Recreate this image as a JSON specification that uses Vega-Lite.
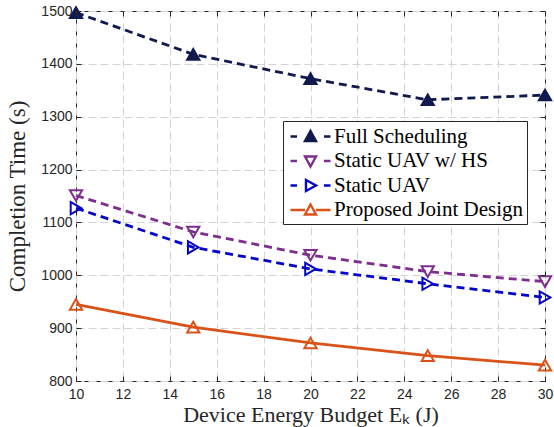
{
  "$schema": "https://vega.github.io/schema/vega-lite/v6.json",
  "width": 469,
  "height": 370,
  "autosize": {"type": "none"},
  "padding": {"left": 76, "top": 11, "right": 9, "bottom": 46},
  "background": "white",
  "config": {
    "view": {"stroke": "#262626", "strokeWidth": 1},
    "axis": {
      "labelFont": "Liberation Sans",
      "labelFontSize": 14,
      "labelColor": "#262626",
      "labelFlush": false,
      "format": "d",
      "titleFont": "Liberation Serif",
      "titleFontWeight": "normal",
      "titleColor": "#262626",
      "titleFontSize": 22,
      "domainColor": "#262626",
      "tickColor": "#262626",
      "gridColor": "#d4d4d4",
      "gridDash": [8, 4],
      "gridWidth": 1
    },
    "legend": {
      "title": null,
      "orient": "none",
      "legendX": 207,
      "legendY": 110,
      "padding": 4,
      "strokeColor": "#262626",
      "fillColor": "white",
      "labelFont": "Liberation Serif",
      "labelFontSize": 21,
      "labelColor": "black",
      "labelLimit": 400,
      "symbolSize": 400,
      "symbolOffset": 12,
      "labelOffset": 12,
      "rowPadding": 2.5
    }
  },
  "data": {
    "values": [
      {"budget": 10, "time": 1497, "series": "Full Scheduling"},
      {"budget": 15, "time": 1418, "series": "Full Scheduling"},
      {"budget": 20, "time": 1372, "series": "Full Scheduling"},
      {"budget": 25, "time": 1332, "series": "Full Scheduling"},
      {"budget": 30, "time": 1341, "series": "Full Scheduling"},
      {"budget": 10, "time": 1151, "series": "Static UAV w/ HS"},
      {"budget": 15, "time": 1082, "series": "Static UAV w/ HS"},
      {"budget": 20, "time": 1038, "series": "Static UAV w/ HS"},
      {"budget": 25, "time": 1007, "series": "Static UAV w/ HS"},
      {"budget": 30, "time": 988, "series": "Static UAV w/ HS"},
      {"budget": 10, "time": 1127, "series": "Static UAV"},
      {"budget": 15, "time": 1053, "series": "Static UAV"},
      {"budget": 20, "time": 1012, "series": "Static UAV"},
      {"budget": 25, "time": 984, "series": "Static UAV"},
      {"budget": 30, "time": 958, "series": "Static UAV"},
      {"budget": 10, "time": 945, "series": "Proposed Joint Design"},
      {"budget": 15, "time": 902, "series": "Proposed Joint Design"},
      {"budget": 20, "time": 872, "series": "Proposed Joint Design"},
      {"budget": 25, "time": 848, "series": "Proposed Joint Design"},
      {"budget": 30, "time": 830, "series": "Proposed Joint Design"}
    ]
  },
  "resolve": {"scale": {"x": "independent", "y": "independent"}, "axis": {"x": "independent", "y": "independent"}},
  "layer": [
    {
      "transform": [{"filter": "datum.series !== 'Proposed Joint Design'"}],
      "mark": {"type": "line", "strokeWidth": 2.8, "strokeDash": [8, 5]},
      "encoding": {
        "x": {
          "field": "budget", "type": "quantitative",
          "scale": {"domain": [10, 30], "nice": false},
          "axis": {"orient": "bottom", "values": [10,12,14,16,18,20,22,24,26,28,30], "ticks": false, "grid": true, "domain": false, "labelPadding": 6, "title": "Device Energy Budget Eₖ (J)", "titlePadding": 3}
        },
        "y": {
          "field": "time", "type": "quantitative",
          "scale": {"domain": [800, 1500], "nice": false, "zero": false},
          "axis": {"orient": "left", "values": [800,900,1000,1100,1200,1300,1400,1500], "ticks": false, "grid": true, "domain": false, "labelPadding": 4, "title": "Completion Time (s)", "titlePadding": 11, "titleFontSize": 23}
        },
        "stroke": {
          "field": "series", "type": "nominal",
          "scale": {"domain": ["Full Scheduling", "Static UAV w/ HS", "Static UAV", "Proposed Joint Design"], "range": ["#111a4f", "#7e2f8e", "#0505c8", "#d95319"]},
          "legend": {
            "encode": {
              "symbols": {
                "update": {
                  "shape": {"signal": "datum.value === 'Full Scheduling' ? 'M-2,0H-1.35M1.35,0H2M0,-0.55L0.55,0.45L-0.55,0.45Z' : datum.value === 'Static UAV w/ HS' ? 'M-2,0H-1.35M1.35,0H2M0,0.55L0.55,-0.45L-0.55,-0.45Z' : datum.value === 'Static UAV' ? 'M-2,0H-1.35M1.35,0H2M0.55,0L-0.45,0.55L-0.45,-0.55Z' : 'M-2,0H-0.55M0.55,0H2M0,-0.55L0.55,0.45L-0.55,0.45Z'"},
                  "fill": {"signal": "datum.value === 'Full Scheduling' ? '#111a4f' : datum.value === 'Static UAV w/ HS' ? '#7e2f8e' : datum.value === 'Static UAV' ? '#0505c8' : 'transparent'"},
                  "stroke": {"signal": "datum.value === 'Full Scheduling' ? '#111a4f' : datum.value === 'Static UAV w/ HS' ? '#7e2f8e' : datum.value === 'Static UAV' ? '#0505c8' : '#d95319'"},
                  "strokeDash": {"value": []},
                  "strokeWidth": {"value": 2.4},
                  "opacity": {"value": 1}
                }
              }
            }
          }
        },
        "detail": {"field": "series"}
      }
    },
    {
      "transform": [{"filter": "datum.series === 'Proposed Joint Design'"}],
      "mark": {"type": "line", "strokeWidth": 2.8},
      "encoding": {
        "x": {
          "field": "budget", "type": "quantitative",
          "scale": {"domain": [10, 30], "nice": false},
          "axis": {"orient": "bottom", "values": [10,12,14,16,18,20,22,24,26,28,30], "labels": false, "grid": false, "domain": false, "ticks": true, "tickSize": 5, "offset": -5, "tickWidth": 1, "zindex": 2, "title": null}
        },
        "y": {
          "field": "time", "type": "quantitative",
          "scale": {"domain": [800, 1500], "nice": false, "zero": false},
          "axis": {"orient": "left", "values": [800,900,1000,1100,1200,1300,1400,1500], "labels": false, "grid": false, "domain": false, "ticks": true, "tickSize": 5, "offset": -5, "tickWidth": 1, "zindex": 2, "title": null}
        },
        "stroke": {
          "field": "series", "type": "nominal",
          "legend": {
            "encode": {
              "symbols": {
                "update": {
                  "shape": {"signal": "datum.value === 'Full Scheduling' ? 'M-2,0H-1.35M1.35,0H2M0,-0.55L0.55,0.45L-0.55,0.45Z' : datum.value === 'Static UAV w/ HS' ? 'M-2,0H-1.35M1.35,0H2M0,0.55L0.55,-0.45L-0.55,-0.45Z' : datum.value === 'Static UAV' ? 'M-2,0H-1.35M1.35,0H2M0.55,0L-0.45,0.55L-0.45,-0.55Z' : 'M-2,0H-0.55M0.55,0H2M0,-0.55L0.55,0.45L-0.55,0.45Z'"},
                  "fill": {"signal": "datum.value === 'Full Scheduling' ? '#111a4f' : datum.value === 'Static UAV w/ HS' ? '#7e2f8e' : datum.value === 'Static UAV' ? '#0505c8' : 'transparent'"},
                  "stroke": {"signal": "datum.value === 'Full Scheduling' ? '#111a4f' : datum.value === 'Static UAV w/ HS' ? '#7e2f8e' : datum.value === 'Static UAV' ? '#0505c8' : '#d95319'"},
                  "strokeDash": {"value": []},
                  "strokeWidth": {"value": 2.4},
                  "opacity": {"value": 1}
                }
              }
            }
          }
        }
      }
    },
    {
      "transform": [{"filter": "datum.series === 'Full Scheduling' || datum.series === 'Proposed Joint Design'"}],
      "mark": {"type": "point", "shape": "triangle-up", "filled": true, "size": 150, "strokeWidth": 2, "opacity": 1},
      "encoding": {
        "x": {
          "field": "budget", "type": "quantitative",
          "scale": {"domain": [10, 30], "nice": false},
          "axis": {"orient": "top", "values": [10,12,14,16,18,20,22,24,26,28,30], "labels": false, "grid": false, "domain": false, "ticks": true, "tickSize": 5, "offset": -5, "tickWidth": 1, "zindex": 2, "title": null}
        },
        "y": {
          "field": "time", "type": "quantitative",
          "scale": {"domain": [800, 1500], "nice": false, "zero": false},
          "axis": {"orient": "right", "values": [800,900,1000,1100,1200,1300,1400,1500], "labels": false, "grid": false, "domain": false, "ticks": true, "tickSize": 5, "offset": -5, "tickWidth": 1, "zindex": 2, "title": null}
        },
        "fill": {
          "field": "series", "type": "nominal",
          "scale": {"domain": ["Full Scheduling", "Static UAV w/ HS", "Static UAV", "Proposed Joint Design"], "range": ["#111a4f", "transparent", "transparent", "transparent"]},
          "legend": null
        },
        "stroke": {
          "field": "series", "type": "nominal",
          "legend": {
            "encode": {
              "symbols": {
                "update": {
                  "shape": {"signal": "datum.value === 'Full Scheduling' ? 'M-2,0H-1.35M1.35,0H2M0,-0.55L0.55,0.45L-0.55,0.45Z' : datum.value === 'Static UAV w/ HS' ? 'M-2,0H-1.35M1.35,0H2M0,0.55L0.55,-0.45L-0.55,-0.45Z' : datum.value === 'Static UAV' ? 'M-2,0H-1.35M1.35,0H2M0.55,0L-0.45,0.55L-0.45,-0.55Z' : 'M-2,0H-0.55M0.55,0H2M0,-0.55L0.55,0.45L-0.55,0.45Z'"},
                  "fill": {"signal": "datum.value === 'Full Scheduling' ? '#111a4f' : datum.value === 'Static UAV w/ HS' ? '#7e2f8e' : datum.value === 'Static UAV' ? '#0505c8' : 'transparent'"},
                  "stroke": {"signal": "datum.value === 'Full Scheduling' ? '#111a4f' : datum.value === 'Static UAV w/ HS' ? '#7e2f8e' : datum.value === 'Static UAV' ? '#0505c8' : '#d95319'"},
                  "strokeDash": {"value": []},
                  "strokeWidth": {"value": 2.4},
                  "opacity": {"value": 1}
                }
              }
            }
          }
        }
      }
    },
    {
      "transform": [{"filter": "datum.series === 'Static UAV w/ HS'"}],
      "mark": {"type": "point", "shape": "triangle-down", "filled": false, "size": 150, "strokeWidth": 2, "opacity": 1},
      "encoding": {
        "x": {"field": "budget", "type": "quantitative", "scale": {"domain": [10, 30], "nice": false}, "axis": null},
        "y": {"field": "time", "type": "quantitative", "scale": {"domain": [800, 1500], "nice": false, "zero": false}, "axis": null},
        "stroke": {
          "field": "series", "type": "nominal",
          "legend": {
            "encode": {
              "symbols": {
                "update": {
                  "shape": {"signal": "datum.value === 'Full Scheduling' ? 'M-2,0H-1.35M1.35,0H2M0,-0.55L0.55,0.45L-0.55,0.45Z' : datum.value === 'Static UAV w/ HS' ? 'M-2,0H-1.35M1.35,0H2M0,0.55L0.55,-0.45L-0.55,-0.45Z' : datum.value === 'Static UAV' ? 'M-2,0H-1.35M1.35,0H2M0.55,0L-0.45,0.55L-0.45,-0.55Z' : 'M-2,0H-0.55M0.55,0H2M0,-0.55L0.55,0.45L-0.55,0.45Z'"},
                  "fill": {"signal": "datum.value === 'Full Scheduling' ? '#111a4f' : datum.value === 'Static UAV w/ HS' ? '#7e2f8e' : datum.value === 'Static UAV' ? '#0505c8' : 'transparent'"},
                  "stroke": {"signal": "datum.value === 'Full Scheduling' ? '#111a4f' : datum.value === 'Static UAV w/ HS' ? '#7e2f8e' : datum.value === 'Static UAV' ? '#0505c8' : '#d95319'"},
                  "strokeDash": {"value": []},
                  "strokeWidth": {"value": 2.4},
                  "opacity": {"value": 1}
                }
              }
            }
          }
        }
      }
    },
    {
      "transform": [{"filter": "datum.series === 'Static UAV'"}],
      "mark": {"type": "point", "shape": "triangle-right", "filled": false, "size": 150, "strokeWidth": 2, "opacity": 1},
      "encoding": {
        "x": {"field": "budget", "type": "quantitative", "scale": {"domain": [10, 30], "nice": false}, "axis": null},
        "y": {"field": "time", "type": "quantitative", "scale": {"domain": [800, 1500], "nice": false, "zero": false}, "axis": null},
        "stroke": {
          "field": "series", "type": "nominal",
          "legend": {
            "encode": {
              "symbols": {
                "update": {
                  "shape": {"signal": "datum.value === 'Full Scheduling' ? 'M-2,0H-1.35M1.35,0H2M0,-0.55L0.55,0.45L-0.55,0.45Z' : datum.value === 'Static UAV w/ HS' ? 'M-2,0H-1.35M1.35,0H2M0,0.55L0.55,-0.45L-0.55,-0.45Z' : datum.value === 'Static UAV' ? 'M-2,0H-1.35M1.35,0H2M0.55,0L-0.45,0.55L-0.45,-0.55Z' : 'M-2,0H-0.55M0.55,0H2M0,-0.55L0.55,0.45L-0.55,0.45Z'"},
                  "fill": {"signal": "datum.value === 'Full Scheduling' ? '#111a4f' : datum.value === 'Static UAV w/ HS' ? '#7e2f8e' : datum.value === 'Static UAV' ? '#0505c8' : 'transparent'"},
                  "stroke": {"signal": "datum.value === 'Full Scheduling' ? '#111a4f' : datum.value === 'Static UAV w/ HS' ? '#7e2f8e' : datum.value === 'Static UAV' ? '#0505c8' : '#d95319'"},
                  "strokeDash": {"value": []},
                  "strokeWidth": {"value": 2.4},
                  "opacity": {"value": 1}
                }
              }
            }
          }
        }
      }
    }
  ]
}
